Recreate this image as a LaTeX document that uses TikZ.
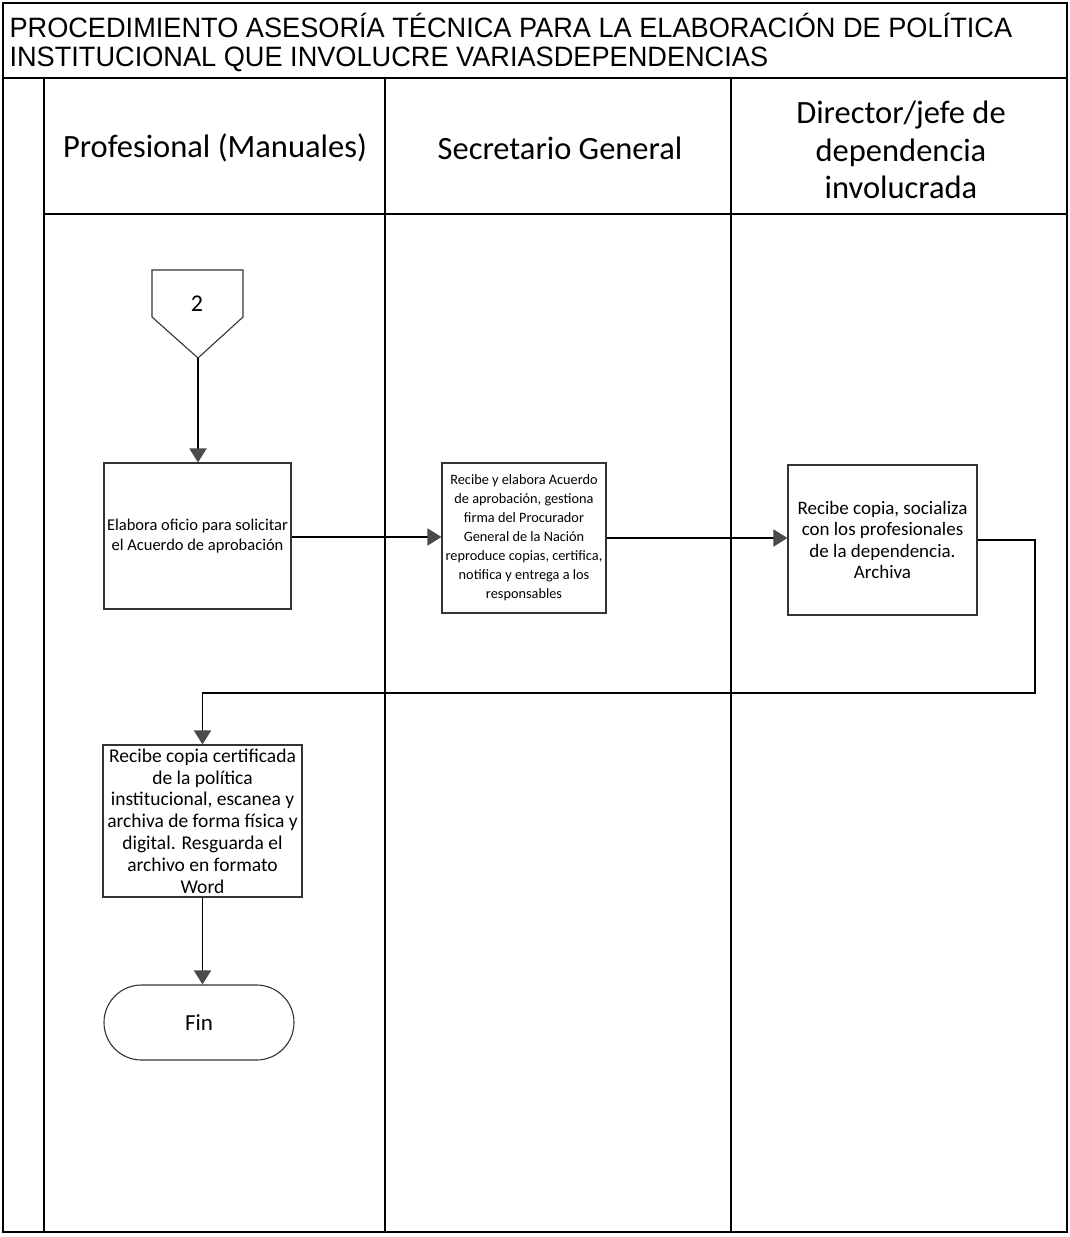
\documentclass[tikz,border=0pt]{standalone}
\usepackage{fontspec}
\setmainfont{Carlito}
\newfontfamily\titlefont[FakeStretch=0.97]{Liberation Sans}
\usetikzlibrary{arrows.meta,shapes.misc}

\definecolor{tipgray}{HTML}{4A4A4A}
\definecolor{boxgray}{HTML}{333333}

\tikzset{
  frameline/.style={line width=1.8pt, black},
  laneline/.style={line width=1.3pt, black},
  lanehead/.style={font=\fontsize{32.5}{37.5}\selectfont, align=center},
  procbox/.style={draw=boxgray, line width=1.1pt, rectangle, align=center, inner sep=1pt},
  flow/.style={line width=1.9pt, black,
    -{Triangle[width=17pt,length=14pt,fill=tipgray,color=tipgray]}},
}

\begin{document}
\begin{tikzpicture}[x=1pt,y=-1pt]
\useasboundingbox (0,0) rectangle (1070,1237);
\fill[white] (0,0) rectangle (1070,1237);

% outer frame, title row and swimlanes
\draw[frameline] (3,3) rectangle (1067,1232);
\draw[frameline] (3,78) -- (1067,78);
\draw[frameline] (44,214) -- (1067,214);
\draw[laneline] (44,78) -- (44,1232);
\draw[laneline] (385,78) -- (385,1232);
\draw[laneline] (731,78) -- (731,1232);

% title
\node[anchor=west, font=\titlefont\fontsize{28}{32}\selectfont] (t1) at (6,25)
  {PROCEDIMIENTO ASESORÍA TÉCNICA PARA LA ELABORACIÓN DE POLÍTICA};
\node[anchor=west, font=\titlefont\fontsize{28}{32}\selectfont] (t2) at (6,59)
  {INSTITUCIONAL QUE INVOLUCRE VARIASDEPENDENCIAS};

% lane headings
\node[lanehead] (h1) at (215,148) {Profesional (Manuales)};
\node[lanehead] (h2) at (560,148) {Secretario General};
\node[lanehead] (h3) at (901,150) {Director/jefe de\\dependencia\\involucrada};

% off-page connector
\draw[draw=boxgray, line width=1.1pt] (152,270) -- (243,270) -- (243,317) -- (198,358) -- (152,317) -- cycle;
\node[font=\fontsize{24}{26}\selectfont] (off) at (197,304) {2};
\coordinate (offtip) at (198,358);

% process steps
\node[procbox, minimum width=187pt, minimum height=146pt,
      font=\fontsize{16.5}{20.5}\selectfont] (b1) at (197.5,536)
  {Elabora oficio para solicitar\\el Acuerdo de aprobación};
\node[procbox, minimum width=164pt, minimum height=150pt,
      font=\fontsize{14.3}{19}\selectfont] (b2) at (524,538)
  {Recibe y elabora Acuerdo\\de aprobación, gestiona\\firma del Procurador\\General de la Nación\\reproduce copias, certifica,\\notifica y entrega a los\\responsables};
\node[procbox, minimum width=189pt, minimum height=150pt,
      font=\fontsize{19}{21.5}\selectfont] (b3) at (882.5,540)
  {Recibe copia, socializa\\con los profesionales\\de la dependencia.\\Archiva};
\node[procbox, minimum width=199pt, minimum height=152pt,
      font=\fontsize{19.5}{21.8}\selectfont] (b4) at (202.5,821)
  {Recibe copia certificada\\de la política\\institucional, escanea y\\archiva de forma física y\\digital. Resguarda el\\archivo en formato\\Word};
\node[procbox, rounded rectangle, minimum width=192pt, minimum height=75pt,
      font=\fontsize{23}{25}\selectfont] (fin) at (199,1022.5) {Fin};

% connectors
\coordinate (turn) at (1035,693);
\draw[flow] (offtip) -- (offtip |- b1.north);
\draw[flow] (b1.east |- 0,537) -- (b2.west |- 0,537);
\draw[flow] (b2.east |- 0,538) -- (b3.west |- 0,538);
\draw[flow] (b3.east) -| (turn) -| (b4.north);
\draw[flow] (b4.south) -- (b4.south |- fin.north);
\end{tikzpicture}
\end{document}
